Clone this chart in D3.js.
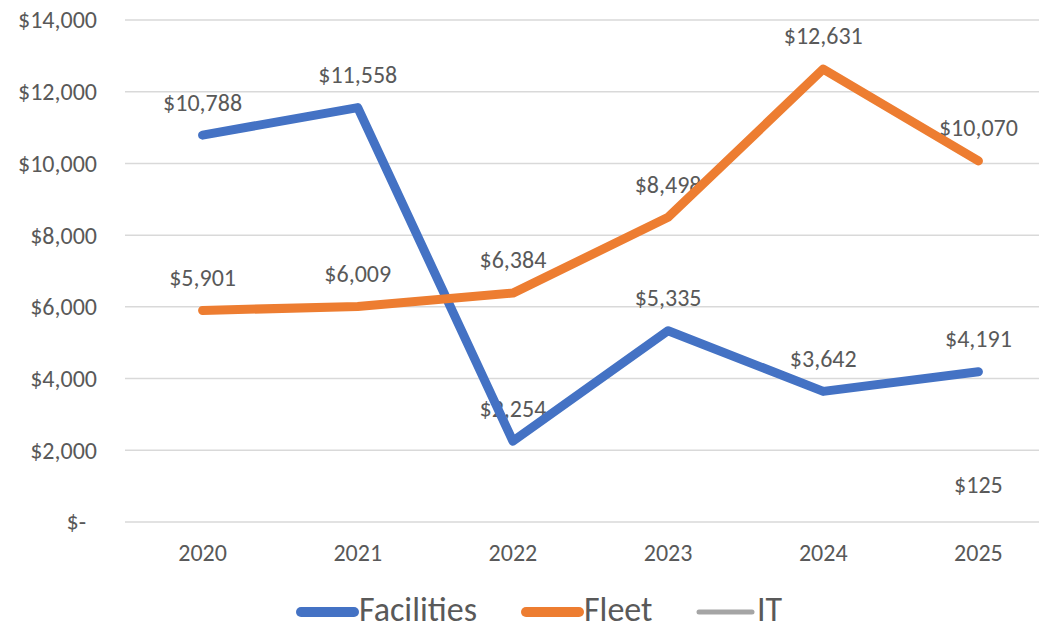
<!DOCTYPE html>
<html>
<head>
<meta charset="utf-8">
<script src="https://cdn.jsdelivr.net/npm/d3@7"></script>
<style>
  body { margin: 0; background: #fff; }
  svg text { font-family: Carlito, 'Liberation Sans Narrow', 'Liberation Sans', sans-serif; fill: #595959; }
</style>
</head>
<body>
<svg id="chart"></svg>
<script>
// Chart values
const years = ['2020', '2021', '2022', '2023', '2024', '2025'];
const facilities = [10788, 11558, 2254, 5335, 3642, 4191];
const fleet = [5901, 6009, 6384, 8498, 12631, 10070];
const it = [null, null, null, null, null, 125];
const yTicks = [0, 2000, 4000, 6000, 8000, 10000, 12000, 14000];
const seriesNames = ['Facilities', 'Fleet', 'IT'];

class LineChart {

    constructor(_config) {
        this.config = {
            parentElement: _config.parentElement,
            containerWidth: _config.containerWidth || 1039,
            containerHeight: _config.containerHeight || 630,
            margin: _config.margin || {top: 20, left: 125, bottom: 108, plotWidth: 931}
        };
        this.series = [
            {name: seriesNames[0], values: facilities, color: '#4472C4', width: 9},
            {name: seriesNames[1], values: fleet, color: '#ED7D31', width: 9},
            {name: seriesNames[2], values: it, color: '#A5A5A5', width: 6}
        ];
        this.initVis();
    }

    initVis() {
        let vis = this;
        const m = vis.config.margin;

        vis.svg = d3.select(vis.config.parentElement)
            .attr('width', vis.config.containerWidth)
            .attr('height', vis.config.containerHeight);

        // Plot area runs past the right edge, like the cropped original
        vis.xScale = d3.scaleBand()
            .domain(years)
            .range([m.left, m.left + m.plotWidth]);

        vis.yScale = d3.scaleLinear()
            .domain([0, 14000])
            .range([vis.config.containerHeight - m.bottom, m.top]);

        vis.cx = d => vis.xScale(d) + vis.xScale.bandwidth() / 2;

        vis.renderVis();
    }

    renderVis() {
        let vis = this;
        const money = v => v === 0 ? '$-' : '$' + d3.format(',')(v);

        // Gridlines
        vis.svg.append('g').selectAll('line')
            .data(yTicks)
            .join('line')
            .attr('x1', vis.xScale.range()[0])
            .attr('x2', vis.xScale.range()[1])
            .attr('y1', d => vis.yScale(d))
            .attr('y2', d => vis.yScale(d))
            .attr('stroke', '#D9D9D9')
            .attr('stroke-width', 1.5);

        // Y tick labels (accounting format leaves a gap after "$-")
        vis.svg.append('g').selectAll('text')
            .data(yTicks)
            .join('text')
            .attr('x', d => d === 0 ? 86 : 97)
            .attr('y', d => vis.yScale(d))
            .attr('dy', '0.35em')
            .attr('text-anchor', 'end')
            .style('font-size', '24px')
            .text(money);

        // X tick labels
        vis.svg.append('g').selectAll('text')
            .data(years)
            .join('text')
            .attr('x', d => vis.cx(d))
            .attr('y', vis.yScale(0) + 31)
            .attr('dy', '0.35em')
            .attr('text-anchor', 'middle')
            .style('font-size', '24px')
            .text(d => d);

        // Data labels sit under the lines
        vis.series.forEach(s => {
            const pts = years.map((y, i) => ({year: y, v: s.values[i]})).filter(p => p.v !== null);
            vis.svg.append('g').selectAll('text')
                .data(pts)
                .join('text')
                .attr('x', p => vis.cx(p.year))
                .attr('y', p => vis.yScale(p.v) - 33)
                .attr('dy', '0.35em')
                .attr('text-anchor', 'middle')
                .style('font-size', '24px')
                .text(p => money(p.v));
        });

        const line = d3.line()
            .defined(d => d.v !== null)
            .x(d => vis.cx(d.year))
            .y(d => vis.yScale(d.v));

        // A lone point with no marker draws nothing, so skip series with < 2 points
        vis.series
            .filter(s => s.values.filter(v => v !== null).length > 1)
            .forEach(s => {
                vis.svg.append('path')
                    .datum(years.map((y, i) => ({year: y, v: s.values[i]})))
                    .attr('fill', 'none')
                    .attr('stroke', s.color)
                    .attr('stroke-width', s.width)
                    .attr('stroke-linecap', 'round')
                    .attr('stroke-linejoin', 'round')
                    .attr('d', line);
            });

        // Legend
        const legendY = 612;
        const legendX = [297, 522, 695];
        const legend = vis.svg.append('g').selectAll('g')
            .data(vis.series)
            .join('g')
            .attr('transform', (d, i) => `translate(${legendX[i]},${legendY})`);

        legend.append('line')
            .attr('x1', 4).attr('x2', 57)
            .attr('stroke', d => d.color)
            .attr('stroke-width', d => d.width === 9 ? 10 : 5)
            .attr('stroke-linecap', 'round');

        legend.append('text')
            .attr('x', 62)
            .attr('y', 9)
            .style('font-size', '34px')
            .text(d => d.name);
    }
}

new LineChart({parentElement: '#chart'});
</script>
</body>
</html>
